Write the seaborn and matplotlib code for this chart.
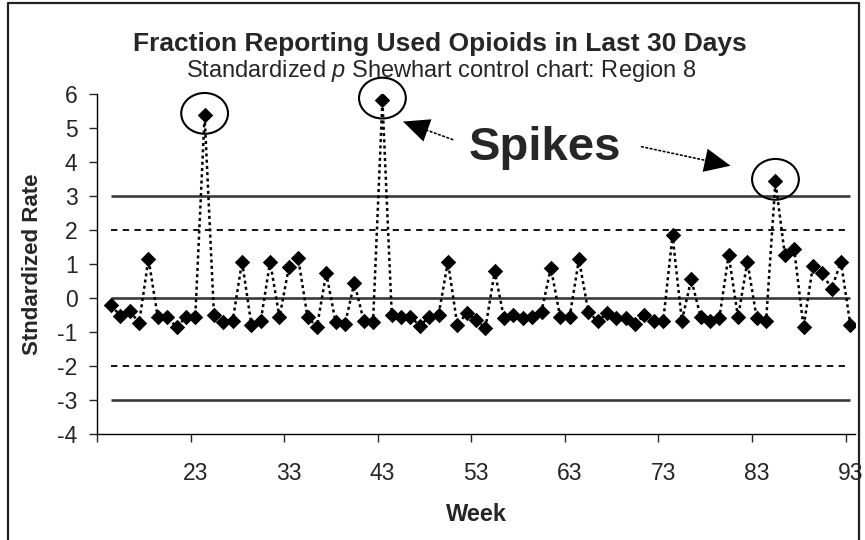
import numpy as np
import pandas as pd
import matplotlib
matplotlib.use("Agg")
import matplotlib.pyplot as plt
import seaborn as sns
from matplotlib.patches import Ellipse
from matplotlib.lines import Line2D

# --- data ---
weeks = list(range(14, 94))
std_rate = [
    -0.22, -0.52, -0.37, -0.74, 1.15, -0.57, -0.57, -0.85, -0.57, -0.57,
    5.37, -0.51, -0.72, -0.67, 1.07, -0.79, -0.67, 1.07, -0.57, 0.90,
    1.17, -0.57, -0.85, 0.73, -0.72, -0.77, 0.45, -0.67, -0.70, 5.82,
    -0.50, -0.55, -0.55, -0.82, -0.55, -0.50, 1.07, -0.79, -0.45, -0.64,
    -0.89, 0.78, -0.60, -0.50, -0.60, -0.55, -0.40, 0.89, -0.57, -0.57,
    1.14, -0.40, -0.69, -0.45, -0.60, -0.60, -0.75, -0.50, -0.69, -0.69,
    1.84, -0.67, 0.55, -0.55, -0.67, -0.60, 1.27, -0.57, 1.07, -0.60,
    -0.67, 3.43, 1.27, 1.43, -0.86, 0.94, 0.73, 0.27, 1.07, -0.79,
]
limit_levels = [3, 2, 0, -2, -3]
limit_kinds = ["solid", "dashed", "solid", "dashed", "solid"]
y_ticks = list(range(-4, 7))
x_tick_labels = [23, 33, 43, 53, 63, 73, 83, 93]

title = "Fraction Reporting Used Opioids in Last 30 Days"
subtitle = "Standardized $\\mathit{p}$ Shewhart control chart: Region 8"

# --- style ---
sns.set_style("white")
plt.rcParams["font.family"] = ["Liberation Sans", "DejaVu Sans"]
plt.rcParams["mathtext.fontset"] = "custom"
plt.rcParams["mathtext.rm"] = "Liberation Sans"
plt.rcParams["mathtext.it"] = "Liberation Sans:italic"
plt.rcParams["axes.unicode_minus"] = False

df = pd.DataFrame({"week": weeks, "rate": std_rate})

fig = plt.figure(figsize=(8.65, 5.4), dpi=100)
ax = fig.add_axes([97 / 865, 1 - 434 / 540, (855 - 97) / 865, (434 - 94) / 540])

# control limits span the observed weeks
for lvl, kind in zip(limit_levels, limit_kinds):
    if kind == "solid":
        ax.hlines(lvl, df.week.min(), df.week.max(), color="#3a3a3a", lw=1.9, zorder=1)
    else:
        ax.hlines(lvl, df.week.min(), df.week.max(), color="black", lw=1.3,
                  linestyles=(0, (3.5, 3)), zorder=1)

sns.lineplot(data=df, x="week", y="rate", ax=ax, color="black", lw=1.8,
             linestyle=(0, (1.2, 1.3)), zorder=2)
sns.scatterplot(data=df, x="week", y="rate", ax=ax, marker="D", s=62,
                color="black", edgecolor="black", linewidth=0, zorder=3)

# circle the spikes
spikes = df[df.rate > 3]
for w, r in zip(spikes.week, spikes.rate):
    ax.add_patch(Ellipse((w, r + 0.06), width=5.0, height=1.2, fill=False,
                         ec="black", lw=1.5, zorder=4, clip_on=False))

ax.text(60.4, 4.07, "Spikes", fontsize=34, fontweight="bold", ha="center", va="baseline")

# dotted shafts with solid heads
arrows = [((45.2, 5.19), (50.5, 4.66)), ((80.2, 3.89), (70.7, 4.45))]
for tip, tail in arrows:
    ax.annotate("", xy=tip, xytext=tail,
                arrowprops=dict(arrowstyle="-", color="black", lw=1.2, linestyle=":",
                                shrinkA=0, shrinkB=14))
    ax.annotate("", xy=tip, xytext=tail,
                arrowprops=dict(arrowstyle="-|>,head_length=0.55,head_width=0.25",
                                fc="black", ec="none", lw=0, mutation_scale=34,
                                shrinkA=0, shrinkB=0))

# axes
ax.set_xlim(12.5, 93.5)
ax.set_ylim(-4, 6)
ax.set_yticks(y_ticks)
ax.set_xticks(x_tick_labels)
ax.set_xticks(np.arange(12.5, 93.5, 10), minor=True)
ax.tick_params(axis="y", direction="out", length=6, width=1, labelsize=16.5, pad=8, left=True)
ax.tick_params(axis="x", which="major", length=0, labelsize=16.5, pad=20)
ax.tick_params(axis="x", which="minor", direction="out", length=6, width=1, bottom=True)
for side in ["top", "right"]:
    ax.spines[side].set_visible(False)
for side in ["left", "bottom"]:
    ax.spines[side].set_color("black")
    ax.spines[side].set_linewidth(1.0)

ax.set_xlabel("Week", fontsize=17, fontweight="bold", labelpad=13)
ax.set_ylabel("Stndardized Rate", fontsize=16, fontweight="bold", labelpad=10)

fig.text(440 / 865, 1 - 51 / 540, title, ha="center", va="baseline",
         fontsize=19, fontweight="bold")
fig.text(441 / 865, 1 - 77 / 540, subtitle, ha="center", va="baseline", fontsize=17)

# chart area frame
fig.add_artist(Line2D([8 / 865, 8 / 865, 859 / 865, 859 / 865],
                      [0, 1 - 2.5 / 540, 1 - 2.5 / 540, 0],
                      transform=fig.transFigure, color="#222222", lw=1.6))

fig.savefig("out.png", dpi=100)
